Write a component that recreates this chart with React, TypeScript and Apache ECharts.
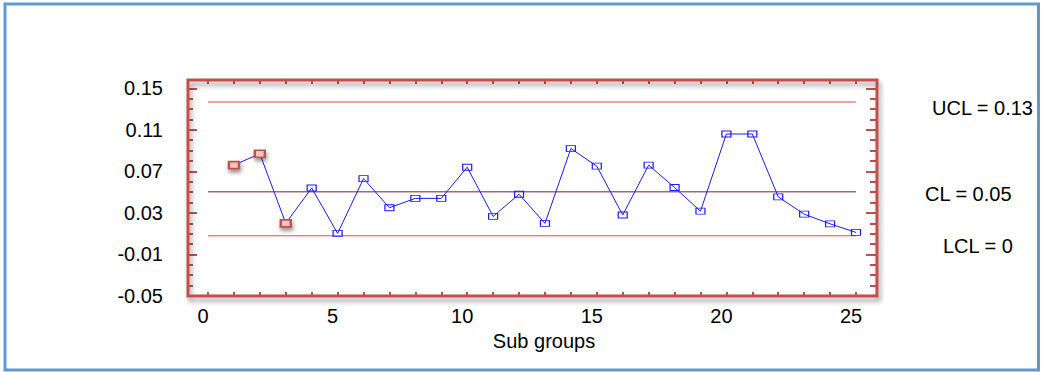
import React, { useEffect, useRef } from "react";
import * as echarts from "echarts";

const subgroups = [1, 2, 3, 4, 5, 6, 7, 8, 9, 10, 11, 12, 13, 14, 15, 16, 17, 18, 19, 20, 21, 22, 23, 24, 25];
const values = [0.076, 0.087, 0.02, 0.054, 0.0103, 0.063, 0.035, 0.044, 0.044, 0.074, 0.0266, 0.048, 0.02, 0.092, 0.075, 0.028, 0.076, 0.0545, 0.0317, 0.106, 0.106, 0.0455, 0.0288, 0.0195, 0.0112];
const flagged = [1, 2, 3];
const limitRange = [0, 25];
const UCL = 0.1368;
const CL = 0.0503;
const LCL = 0.008;
const limitLabels = ["UCL = 0.13", "CL = 0.05", "LCL = 0"];

const FRAME = "#c0504d";

export default function App() {
  const ref = useRef<HTMLDivElement>(null);
  useEffect(() => {
    if (!ref.current) return;
    const chart = echarts.init(ref.current, null, { renderer: "svg" });
    const font = "Liberation Sans, Arial, sans-serif";
    const pointData = subgroups.map((x, i) => {
      if (flagged.includes(x)) {
        return {
          value: [x, values[i]],
          symbolSize: [10, 7],
          itemStyle: {
            color: "#f4c6c4",
            borderColor: FRAME,
            borderWidth: 2,
            shadowColor: "rgba(0,0,0,0.45)",
            shadowBlur: 4,
            shadowOffsetX: 1,
            shadowOffsetY: 3,
          },
        };
      }
      return { value: [x, values[i]] };
    });
    const limitLine = (v: number, color: string) => ({
      type: "line",
      data: limitRange.map((x) => [x, v]),
      symbol: "none",
      silent: true,
      lineStyle: { color, width: 1 },
      z: 1,
    });
    const yBase = {
      type: "value",
      min: -0.05,
      max: 0.158,
      interval: 0.04,
      splitLine: { show: false },
      axisLine: { show: false, onZero: false },
    };
    const xBase = {
      type: "value",
      min: 0,
      max: 25,
      interval: 1,
      splitLine: { show: false },
      axisLine: { show: false, onZero: false },
    };
    chart.setOption({
      animation: false,
      grid: { left: 208, right: 190, top: 80, bottom: 76 },
      xAxis: [
        {
          ...xBase,
          position: "bottom",
          axisTick: { show: true, inside: true, length: 4, lineStyle: { color: FRAME, width: 2 } },
          axisLabel: {
            formatter: (v: number) => (v % 5 === 0 ? String(v) : ""),
            color: "#000",
            fontSize: 20,
            fontFamily: font,
            margin: 10,
            padding: [0, 10, 0, 0],
          },
          name: "Sub groups",
          nameLocation: "middle",
          nameGap: 28,
          nameTextStyle: { color: "#000", fontSize: 20, fontFamily: font, padding: [0, 0, 0, 24] },
        },
        {
          ...xBase,
          position: "top",
          axisTick: { show: true, inside: true, length: 4, lineStyle: { color: FRAME, width: 2 } },
          axisLabel: { show: false },
        },
      ],
      yAxis: [
        {
          ...yBase,
          position: "left",
          offset: 20,
          axisTick: { show: true, inside: true, length: 9, lineStyle: { color: FRAME, width: 2 } },
          minorTick: { show: true, splitNumber: 4, length: 5, lineStyle: { color: FRAME, width: 2 } },
          axisLabel: {
            showMaxLabel: false,
            formatter: (v: number) => (v > 0.155 ? "" : v.toFixed(2)),
            color: "#000",
            fontSize: 20,
            fontFamily: font,
            margin: 25,
          },
        },
        {
          ...yBase,
          position: "right",
          offset: 21,
          axisTick: { show: true, inside: true, length: 11, lineStyle: { color: FRAME, width: 2 } },
          minorTick: { show: true, splitNumber: 4, length: 7, lineStyle: { color: FRAME, width: 2 } },
          axisLabel: { show: false },
        },
      ],
      graphic: [
        {
          type: "rect",
          shape: { x: 5, y: 4, width: 1033.5, height: 366 },
          style: { fill: "none", stroke: "#5b9bd5", lineWidth: 3 },
          silent: true,
        },
        {
          type: "rect",
          shape: { x: 188, y: 80, width: 689, height: 216 },
          style: {
            fill: "none",
            stroke: FRAME,
            lineWidth: 3,
            shadowColor: "rgba(0,0,0,0.4)",
            shadowBlur: 5,
            shadowOffsetX: 2,
            shadowOffsetY: 4,
          },
          silent: true,
          z: 10,
        },
        {
          type: "text",
          x: 932,
          y: 108,
          style: { text: limitLabels[0], fontSize: 20, fontFamily: font, fill: "#000", verticalAlign: "middle" },
        },
        {
          type: "text",
          x: 925,
          y: 194,
          style: { text: limitLabels[1], fontSize: 20, fontFamily: font, fill: "#000", verticalAlign: "middle" },
        },
        {
          type: "text",
          x: 943,
          y: 246,
          style: { text: limitLabels[2], fontSize: 20, fontFamily: font, fill: "#000", verticalAlign: "middle" },
        },
      ],
      series: [
        limitLine(UCL, "#e8474a"),
        limitLine(CL, "#7b1c3a"),
        limitLine(LCL, "#e8474a"),
        {
          type: "line",
          data: pointData,
          symbol: "rect",
          symbolSize: [9, 6],
          showSymbol: true,
          lineStyle: { color: "#1a1aff", width: 1 },
          itemStyle: { color: "rgba(255,255,255,0)", borderColor: "#1a1aff", borderWidth: 1 },
          z: 3,
        },
      ],
    });
    return () => chart.dispose();
  }, []);
  return (
    <div
      ref={ref}
      style={{ position: "absolute", left: 0, top: 0, width: 1046, height: 372, background: "#fff" }}
    />
  );
}
